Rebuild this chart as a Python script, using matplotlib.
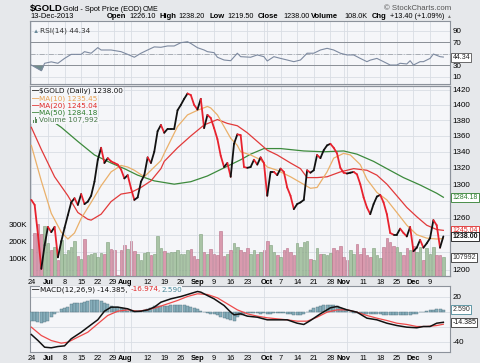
import matplotlib
matplotlib.use('Agg')
import matplotlib.pyplot as plt
from matplotlib.collections import LineCollection
from matplotlib.patches import Rectangle

plt.rcParams['font.family'] = ['Liberation Sans', 'DejaVu Sans']

# one value per weekday, 24-Jun-2013 .. 13-Dec-2013
close = [1281, 1275, 1240, 1201, 1228, 1249, 1243, 1249, 1214, 1232,
         1248, 1263, 1278, 1283, 1275, 1288, 1276, 1279, 1286, 1303,
         1330, 1345, 1326, 1332, 1328, 1326, 1324, 1318, 1307, 1311,
         1295, 1281, 1284, 1303, 1311, 1333, 1326, 1340, 1366, 1374,
         1364, 1369, 1369, 1369, 1393, 1400, 1408, 1415, 1413, 1400,
         1394, 1408, 1370, 1387, 1383, 1370, 1356, 1335, 1321, 1326,
         1309, 1350, 1362, 1361, 1321, 1320, 1321, 1330, 1324, 1333,
         1326, 1286, 1315, 1315, 1311, 1319, 1315, 1296, 1286, 1270,
         1276, 1278, 1281, 1317, 1314, 1317, 1336, 1332, 1342, 1348,
         1350, 1345, 1338, 1320, 1314, 1313, 1314, 1315, 1312, 1300,
         1284, 1272, 1264, 1276, 1285, 1287, 1278, 1264, 1242, 1240,
         1240, 1247, 1242, 1238, 1249, 1221, 1225, 1234, 1225, 1230,
         1236, 1257, 1251, 1225, 1238]

volume_k = [155, 250, 300, 240, 290, 190, 150, 165, 90, 210,
            130, 150, 165, 200, 115, 100, 215, 120, 130, 135,
            110, 135, 125, 195, 155, 150, 8, 150, 180, 155,
            205, 145, 125, 90, 135, 140, 120, 130, 230, 160,
            145, 135, 140, 140, 150, 125, 130, 150, 155, 115,
            100, 240, 140, 130, 155, 130, 120, 260, 115, 125,
            150, 190, 170, 150, 140, 160, 130, 150, 125, 140,
            150, 205, 180, 140, 120, 110, 150, 160, 140, 120,
            190, 170, 195, 200, 100, 90, 160, 125, 130, 120,
            135, 160, 150, 175, 110, 95, 150, 130, 185, 130,
            160, 120, 110, 160, 120, 105, 165, 220, 195, 175,
            165, 140, 120, 160, 150, 175, 140, 165, 95, 160,
            130, 170, 120, 120, 108]

ma10_day = [0, 3, 6, 9, 11, 13, 15, 18, 21, 24, 27, 29, 31, 34, 36, 39, 40, 44, 47,
            50, 53, 54, 56, 58, 60, 62, 63, 66, 69, 71, 74, 78, 81, 84, 86, 89, 91,
            94, 96, 99, 101, 104, 107, 110, 113, 116, 119, 122, 124]
ma10 = [1348, 1304, 1265, 1243, 1235, 1242, 1259, 1278, 1298, 1315, 1323, 1321, 1317,
        1309, 1317, 1329, 1338, 1372, 1387, 1393, 1398, 1396, 1387, 1372, 1357, 1348,
        1340, 1336, 1330, 1321, 1317, 1309, 1302, 1295, 1296, 1315, 1332, 1338, 1336,
        1324, 1306, 1290, 1281, 1266, 1251, 1240, 1236, 1235, 1235.45]

ma20_day = [0, 3, 7, 11, 14, 17, 18, 21, 24, 27, 30, 33, 36, 39, 40, 44, 48, 52, 56,
            59, 62, 65, 68, 71, 74, 78, 81, 83, 86, 89, 93, 97, 101, 104, 107, 110,
            113, 116, 119, 122, 124]
ma20 = [1371, 1343, 1309, 1286, 1266, 1258, 1257, 1264, 1279, 1288, 1290, 1296, 1304,
        1319, 1328, 1345, 1360, 1374, 1381, 1376, 1373, 1364, 1353, 1342, 1336, 1326,
        1319, 1308, 1308, 1309, 1315, 1319, 1317, 1311, 1300, 1286, 1272, 1261, 1251,
        1246, 1245.04]

ma50_day = [0, 9, 14, 19, 24, 28, 32, 37, 43, 48, 53, 58, 63, 66, 70, 75, 82, 88, 94,
            98, 103, 107, 112, 117, 122, 124]
ma50 = [1398, 1371, 1353, 1336, 1326, 1319, 1311, 1304, 1300, 1303, 1310, 1320, 1330,
        1337, 1344, 1344, 1341, 1340, 1341, 1337, 1328, 1319, 1308, 1299, 1289, 1284.18]

rsi_day = [0, 3, 4, 6, 8, 10, 12, 15, 16, 18, 20, 21, 24, 27, 29, 31, 33, 35, 37, 39,
           41, 43, 45, 47, 48, 50, 52, 53, 55, 56, 58, 60, 62, 63, 66, 68, 70, 71, 73,
           75, 77, 79, 81, 83, 85, 87, 89, 91, 93, 95, 97, 99, 101, 102, 104, 106, 108,
           110, 111, 113, 114, 115, 117, 118, 120, 121, 123, 124]
rsi = [30.5, 20.6, 33.5, 36, 33.5, 42, 49, 49, 53.7, 51, 60.7, 56.6, 56.6, 53.7, 49, 44,
       51, 56.6, 62, 61.3, 63.6, 63.6, 69.3, 71, 68, 60.6, 56.6, 53.7, 52, 44, 39.2, 38,
       51, 45, 44, 48, 45, 37.5, 45, 42, 39.2, 36.3, 39.2, 51, 51, 56.6, 59.5, 56.6, 51,
       48, 48, 42, 36.3, 39, 42, 36.3, 30.5, 30.5, 33.5, 32.3, 38, 30.5, 36.3, 36.3, 42,
       49.6, 45, 44.34]

macd_day = [0, 2, 4, 6, 8, 10, 12, 15, 17, 20, 22, 24, 26, 29, 31, 33, 35, 37, 39, 42,
            45, 46, 50, 51, 53, 55, 58, 60, 61, 63, 65, 68, 71, 74, 77, 80, 82, 84, 87,
            90, 92, 95, 98, 101, 104, 107, 110, 113, 116, 118, 120, 122, 124]
macd = [-30.7, -38.7, -47.6, -48.4, -46.7, -45.8, -36.4, -27.6, -20.9, -11, 0.4, 5.8,
        5.8, 3.6, 0, 0.4, 2.2, 5.8, 12.4, 16.9, 20, 21.3, 26.7, 25.8, 21.3, 16.9, 8, -0.9,
        -4.4, -3.1, -6.2, -7.6, -11.1, -11.1, -11.1, -15.6, -17.3, -12, -3.1, 4.9, 6.7,
        2.2, -0.9, -8.9, -11.1, -15.6, -18.7, -20.9, -21.7, -20, -20, -15.6, -14.385]

signal_day = [0, 3, 6, 9, 11, 14, 17, 20, 23, 26, 29, 32, 35, 38, 41, 44, 47, 50, 53,
              56, 59, 62, 65, 68, 71, 74, 77, 80, 83, 86, 89, 92, 95, 98, 101, 104, 107,
              110, 113, 116, 119, 122, 124]
signal = [-20.9, -32, -38.7, -42.2, -40.9, -34.2, -27.6, -16.4, -5.3, 0.4, 2.2, 0.4, 2.2,
          5.8, 10.2, 14.7, 20, 23.6, 22.7, 18.2, 10.2, 2.2, -3.1, -6.2, -8.4, -9.8, -11.1,
          -12.9, -12.9, -7.6, -0.9, 2.2, 2.2, -0.9, -5.3, -8.9, -12, -15.6, -17.3, -20,
          -20, -18.7, -16.974]

hist = [-12, -13, -14, -15.6, -14, -12, -7.6, -3, -0.5, 4,
        5, 6, 10, 11, 11.6, 12, 12.4, 14, 15.6, 15.6,
        15.6, 13.8, 12, 10, 8, 5.8, 5.5, 4.9, 3, 1.3,
        0.5, 0, 0.5, 1.3, 2.5, 3.6, 5, 6.7, 6.7, 6.7,
        7.5, 8, 8.5, 8.9, 8.9, 8.9, 8.5, 8, 6.5, 4.9,
        3, 1.3, -0.5, -1.5, -3, -3, -4.5, -6.7, -8, -9.8,
        -11.5, -12.9, -7.6, -5, -3, -2.5, -2.5, -2, -2.5, -3,
        -2.5, -3.5, -3, -2.5, -2, -2, -2.5, -3, -3.5, -4,
        -4.4, -4.4, -3, -0.9, 1.5, 4.4, 6, 7.5, 8.9, 8.9,
        8.9, 8.9, 6.7, 5, 3.6, 1.5, 0, -1.5, -2, -2.5,
        -3, -3, -3.5, -3, -3, -3.5, -4, -4.5, -5, -5.3,
        -5.3, -5, -4.5, -4, -4, -3.5, -3, -1, -0.5, 0.4,
        1.5, 2.5, 3.6, 3.3, 2.6]

tick_days = [0, 5, 10, 15, 20, 24.6, 28.2, 35, 40, 45, 50, 55, 60, 65, 71, 75, 80, 85,
             90, 94, 100, 105, 110, 115, 120]
tick_labels = ['24', 'Jul', '8', '15', '22', '29', 'Aug', '12', '19', '26', 'Sep', '9',
               '16', '23', 'Oct', '7', '14', '21', '28', 'Nov', '11', '18', '25', 'Dec', '9']
months = {'Jul', 'Aug', 'Sep', 'Oct', 'Nov', 'Dec'}
grid_days = sorted(set(range(0, 125, 5)) | {28, 71, 94})

W, H = 480, 363
PANEL_BG = '#f5f6f9'
GRID = '#d9dde4'
FRAME = '#8c929b'
UP_C, DN_C = '#111111', '#e8222e'
VOL_UP, VOL_DN = '#a9c4a6', '#d99aae'
XMIN, XMAX = -0.4, 126

fig = plt.figure(figsize=(W / 100, H / 100), dpi=100)
fig.patch.set_facecolor('#e6e8eb')


def rect(x0, y0, x1, y1):
    return [x0 / W, 1 - y1 / H, (x1 - x0) / W, (y1 - y0) / H]


def ftext(x, y, s, **kw):
    kw.setdefault('va', 'center')
    return fig.text(x / W, 1 - y / H, s, **kw)


def style(a, bg=True):
    a.set_xlim(XMIN, XMAX)
    if bg:
        a.set_facecolor(PANEL_BG)
    for sp in a.spines.values():
        sp.set_color(FRAME)
        sp.set_linewidth(0.8)
    a.set_xticks(grid_days, minor=True)
    a.tick_params(which='both', length=0)
    a.grid(which='minor', axis='x', color=GRID, lw=0.6)


def vbox(a, y, s, ec, tc, bold=False, z=5):
    a.text(1.006, y, s, transform=a.get_yaxis_transform(), fontsize=5.0,
           color=tc, ha='left', va='center', weight='bold' if bold else 'normal',
           clip_on=False, zorder=z,
           bbox=dict(boxstyle='square,pad=0.15', fc='white', ec=ec, lw=0.6))


def date_axis(a):
    a.set_xticks(tick_days)
    a.set_xticklabels(tick_labels)
    a.set_xticks(grid_days, minor=True)
    a.tick_params(axis='x', labelsize=5.3, pad=2.5)
    for t in a.get_xticklabels():
        if t.get_text() in months:
            t.set_fontweight('bold')


# header
ftext(29.5, 9, '$GOLD', size=6.8, weight='bold')
ftext(63, 9.5, 'Gold - Spot Price (EOD)', size=5.3)
ftext(143, 9.5, 'CME', size=5.0)
ftext(451, 8, '\u00a9 StockCharts.com', size=5.6, ha='right', color='#555555')
ftext(30, 16, '13-Dec-2013', size=5.4)
info = [(107, 'Open', True), (129, '1226.10', False), (159, 'High', True),
        (178, '1238.20', False), (209, 'Low', True), (227, '1219.50', False),
        (258, 'Close', True), (283, '1238.00', False), (311, 'Volume', True),
        (344, '108.0K', False), (372, 'Chg', True), (390, '+13.40 (+1.09%)', False)]
for x, s, b in info:
    ftext(x, 16, s, size=5.5 if b else 5.2, weight='bold' if b else 'normal')
ftext(446, 16.5, '\u25b2', size=3.5, color='#777777')

# RSI panel
ax_r = fig.add_axes(rect(30, 21, 450, 84))
style(ax_r)
ax_r.set_ylim(-2.5, 107)
ax_r.set_yticks([10, 30, 50, 70, 90])
ax_r.set_yticklabels(['10', '30', '', '70', '90'])
ax_r.yaxis.tick_right()
ax_r.tick_params(axis='y', labelsize=5.8, pad=2)
ax_r.set_xticks([])
ax_r.grid(axis='y', color=GRID, lw=0.6)
ax_r.axhline(70, color='#8a8f96', lw=0.7)
ax_r.axhline(30, color='#8a8f96', lw=0.7)
ax_r.axhline(50, color='#a0a5ac', lw=0.6, ls=(0, (6, 2, 1, 2)))
ax_r.plot(rsi_day, rsi, color='#7d8aa0', lw=0.8, zorder=4)
ax_r.fill_between(rsi_day, rsi, 30, where=[v < 30 for v in rsi], interpolate=True,
                  color='#6f8c8c', lw=0, zorder=3)
ax_r.fill_between(rsi_day, rsi, 70, where=[v > 70 for v in rsi], interpolate=True,
                  color='#6f8c8c', lw=0, zorder=3)
ax_r.text(0.025, 0.84, 'RSI(14) 44.34', transform=ax_r.transAxes, fontsize=5.3,
          family='DejaVu Sans', color='#333333', va='center')
ax_r.text(0.006, 0.84, '\u25b2', transform=ax_r.transAxes, fontsize=4.5,
          color='#6a8a9a', va='center')
vbox(ax_r, 44.34, '44.34', '#555555', '#222222')

# volume (below) and price (above) share the main panel
ax_v = fig.add_axes(rect(30, 86, 450, 276))
style(ax_v)
ax = fig.add_axes(rect(30, 86, 450, 276))
style(ax, bg=False)
ax.patch.set_visible(False)

days = list(range(len(close)))
vcol = [VOL_UP if i == 0 or close[i] >= close[i - 1] else VOL_DN for i in days]
vedge = ['#7f9f7c' if c == VOL_UP else '#b86f88' for c in vcol]
ax_v.bar(days, [v * 1000 for v in volume_k], width=0.78, color=vcol, edgecolor=vedge,
         linewidth=0.4, zorder=3)
ax_v.set_ylim(0, 1098000)
ax_v.set_yticks([100000, 200000, 300000])
ax_v.set_yticklabels(['100K', '200K', '300K'])
ax_v.tick_params(axis='y', labelsize=5.8, pad=2)
ax_v.set_xticks([])

price_ticks = list(range(1200, 1421, 20))
hidden = {1280, 1240, 1220}
ax.set_yscale('log')
ax.set_ylim(1193, 1425)
ax.set_yticks(price_ticks)
ax.set_yticklabels(['' if p in hidden else str(p) for p in price_ticks])
ax.yaxis.set_minor_locator(matplotlib.ticker.NullLocator())
ax.yaxis.tick_right()
ax.tick_params(axis='y', labelsize=5.8, pad=2)
date_axis(ax)
ax.grid(False)
# horizontal price grid drawn in the bottom axes, behind the volume bars
fig.canvas.draw()
for p in price_ticks:
    f = ax.transAxes.inverted().transform(ax.transData.transform((0, p)))[1]
    ax_v.axhline(f * 1098000, color=GRID, lw=0.6, zorder=1)

ax.plot(ma50_day, ma50, color='#3c8a3c', lw=0.9, zorder=3)
ax.plot(ma20_day, ma20, color='#e23a3a', lw=0.9, zorder=3)
ax.plot(ma10_day, ma10, color='#eab06a', lw=0.9, zorder=3)
segs = [[(i - 1, close[i - 1]), (i, close[i])] for i in days[1:]]
scol = [DN_C if close[i] < close[i - 1] else UP_C for i in days[1:]]
ax.add_collection(LineCollection(segs, colors=scol, linewidths=1.3, zorder=4,
                                 capstyle='round', joinstyle='round'))

legend = [('$GOLD (Daily) 1238.00', '#111111'), ('MA(10) 1235.45', '#e8a050'),
          ('MA(20) 1245.04', '#e02828'), ('MA(50) 1284.18', '#2e7d2e'),
          ('Volume 107,992', '#4a7a4a')]
fig.add_artist(Rectangle((31 / W, 1 - 124 / H), 58 / W, 37 / H, fc=PANEL_BG, ec='none',
                         transform=fig.transFigure, zorder=5))
for k, (s, c) in enumerate(legend):
    yy = 91 + k * 7.3
    ftext(39, yy, s, size=5.2, color=c, family='DejaVu Sans', zorder=6,
          bbox=dict(boxstyle='square,pad=0.05', fc=PANEL_BG, ec='none'))
    if k < 4:
        ftext(32.5, yy, '\u2014', size=5.2, color=c, weight='bold', zorder=7)
for j, hgt in enumerate([3, 5, 4]):
    fig.add_artist(Rectangle(((33 + j * 1.6) / W, 1 - 122.5 / H), 1.1 / W, hgt / H,
                             fc='#5a8a5a', ec='none', transform=fig.transFigure, zorder=7))

vbox(ax, 1284.18, '1284.18', '#2e7d2e', '#2e7d2e')
vbox(ax, 1245.04, '1245.04', '#e02828', '#e02828')
vbox(ax, 1238.00, '1238.00', '#111111', '#111111', bold=True, z=6)
vbox(ax_v, 107992, '107992', '#333333', '#333333')

# MACD panel
ax_m = fig.add_axes(rect(30, 286, 450, 352))
style(ax_m)
ax_m.set_ylim(-54, 34)
ax_m.set_yticks([-40, -20, 0, 20])
ax_m.set_yticklabels(['-40', '', '', '20'])
ax_m.yaxis.tick_right()
ax_m.tick_params(axis='y', labelsize=5.8, pad=2)
ax_m.grid(axis='y', color=GRID, lw=0.6)
ax_m.bar(days, hist, width=0.9, color='#86aebb', edgecolor='#55737e', linewidth=0.3,
         zorder=3)
ax_m.plot(signal_day, signal, color='#ee4a4a', lw=0.9, zorder=4)
ax_m.plot(macd_day, macd, color='#111111', lw=1.1, zorder=5)
date_axis(ax_m)
mx = [(40.5, 'MACD(12,26,9) -14.385,', '#111111'), (131, '-16.974,', '#e02828'),
      (161, '2.590', '#4a8a9a')]
ftext(32.5, 289.5, '\u2014', size=5.2, color='#111111', weight='bold', zorder=7)
for x, s, c in mx:
    ftext(x, 289.5, s, size=5.2, color=c, family='DejaVu Sans', zorder=6,
          bbox=dict(boxstyle='square,pad=0.1', fc=PANEL_BG, ec='none'))
vbox(ax_m, 2.59, '2.590', '#4a8a9a', '#333333')
vbox(ax_m, -14.385, '-14.385', '#333333', '#111111', z=6)

fig.savefig('out.png', dpi=100, facecolor=fig.get_facecolor())
